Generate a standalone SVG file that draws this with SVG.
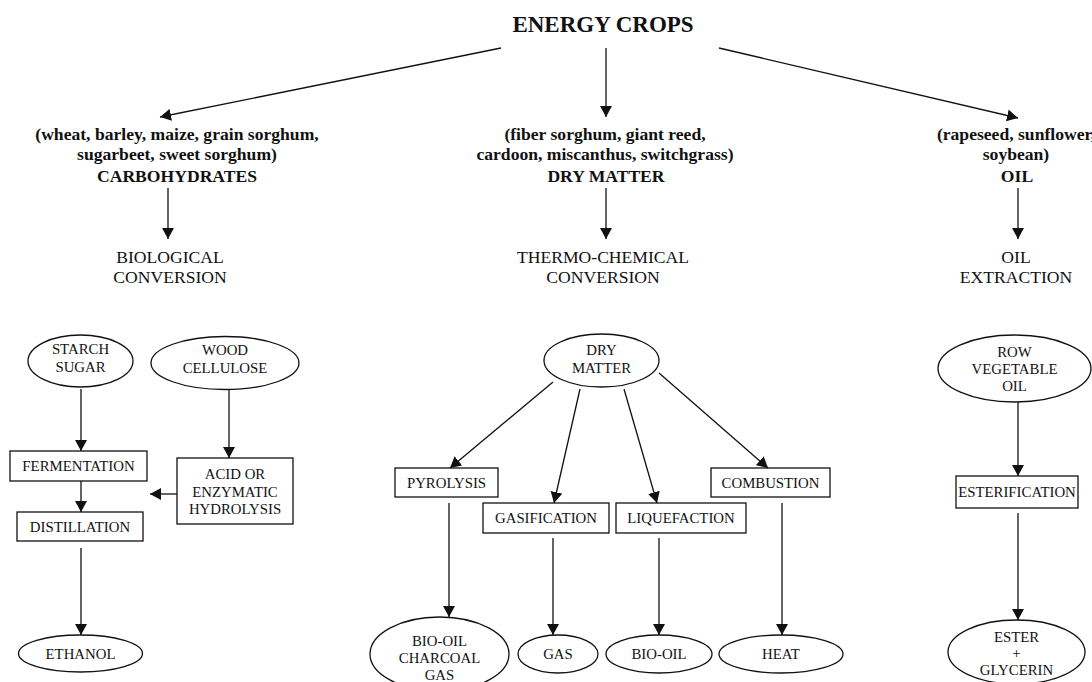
<svg xmlns="http://www.w3.org/2000/svg" width="1092" height="682" viewBox="0 0 1092 682">
<style>
text{font-family:"Liberation Serif","Times New Roman",serif;fill:#111;text-anchor:middle}
.t{font-size:23px;font-weight:bold}
.b{font-size:17.6px;font-weight:bold}
.c{font-size:17.6px}
.n{font-size:14.8px}
.s{fill:#fff;stroke:#111;stroke-width:1.3}
.e line{stroke:#111;stroke-width:1.3;marker-end:url(#ah)}
</style>
<defs>
<marker id="ah" viewBox="0 0 11 12" refX="11" refY="6" markerWidth="11" markerHeight="12" markerUnits="userSpaceOnUse" orient="auto"><path d="M0,0 L11,6 L0,12 z" fill="#111"/></marker>
</defs>
<rect width="1092" height="682" fill="#fff"/>
<g id="energy-crops"><text class="t" x="603" y="32">ENERGY CROPS</text></g>
<g id="carbohydrates"><text class="b" x="177" y="140">(wheat, barley, maize, grain sorghum,</text><text class="b" x="177" y="160">sugarbeet, sweet sorghum)</text><text class="b" x="177" y="182">CARBOHYDRATES</text></g>
<g id="dry-matter-crops"><text class="b" x="605" y="140">(fiber sorghum, giant reed,</text><text class="b" x="605" y="160">cardoon, miscanthus, switchgrass)</text><text class="b" x="606" y="182">DRY MATTER</text></g>
<g id="oil-crops"><text class="b" x="1016" y="140">(rapeseed, sunflower,</text><text class="b" x="1016" y="160">soybean)</text><text class="b" x="1017" y="182">OIL</text></g>
<g id="bio-conv"><text class="c" x="170" y="263">BIOLOGICAL</text><text class="c" x="170" y="283">CONVERSION</text></g>
<g id="thermo-conv"><text class="c" x="603" y="263">THERMO-CHEMICAL</text><text class="c" x="603" y="283">CONVERSION</text></g>
<g id="oil-extr"><text class="c" x="1016" y="263">OIL</text><text class="c" x="1016" y="283">EXTRACTION</text></g>
<g id="starch"><ellipse class="s" cx="80.5" cy="361" rx="52.5" ry="26"/><text class="n" x="80.5" y="354">STARCH</text><text class="n" x="80.5" y="372">SUGAR</text></g>
<g id="wood"><ellipse class="s" cx="225" cy="363" rx="74" ry="26.5"/><text class="n" x="225" y="355">WOOD</text><text class="n" x="225" y="373">CELLULOSE</text></g>
<g id="fermentation"><rect class="s" x="10" y="451" width="137" height="30"/><text class="n" x="78.5" y="471">FERMENTATION</text></g>
<g id="distillation"><rect class="s" x="17" y="512" width="126" height="29"/><text class="n" x="80" y="532">DISTILLATION</text></g>
<g id="hydrolysis"><rect class="s" x="177" y="458" width="116" height="66"/><text class="n" x="235" y="479">ACID OR</text><text class="n" x="235" y="497">ENZYMATIC</text><text class="n" x="235" y="514">HYDROLYSIS</text></g>
<g id="ethanol"><ellipse class="s" cx="80.5" cy="653.5" rx="62" ry="18.5"/><text class="n" x="80.5" y="659">ETHANOL</text></g>
<g id="drymatter"><ellipse class="s" cx="601.5" cy="360.5" rx="57.5" ry="26.5"/><text class="n" x="601.5" y="355">DRY</text><text class="n" x="601.5" y="373">MATTER</text></g>
<g id="pyrolysis"><rect class="s" x="395" y="468" width="103" height="29"/><text class="n" x="446.5" y="488">PYROLYSIS</text></g>
<g id="gasification"><rect class="s" x="483" y="503" width="126" height="30"/><text class="n" x="546" y="523">GASIFICATION</text></g>
<g id="liquefaction"><rect class="s" x="616" y="503" width="130" height="30"/><text class="n" x="681" y="523">LIQUEFACTION</text></g>
<g id="combustion"><rect class="s" x="711" y="468" width="119" height="29"/><text class="n" x="770.5" y="488">COMBUSTION</text></g>
<g id="biooil-charcoal-gas"><ellipse class="s" cx="439.5" cy="654" rx="69.5" ry="37"/><text class="n" x="439.5" y="646">BIO-OIL</text><text class="n" x="439.5" y="663">CHARCOAL</text><text class="n" x="439.5" y="680">GAS</text></g>
<g id="gas"><ellipse class="s" cx="558" cy="654" rx="40" ry="19"/><text class="n" x="558" y="659">GAS</text></g>
<g id="biooil"><ellipse class="s" cx="659" cy="654" rx="53" ry="19"/><text class="n" x="659" y="659">BIO-OIL</text></g>
<g id="heat"><ellipse class="s" cx="781" cy="654" rx="62" ry="19"/><text class="n" x="781" y="659">HEAT</text></g>
<g id="row-oil"><ellipse class="s" cx="1014.5" cy="368.5" rx="76.5" ry="33.5"/><text class="n" x="1014.5" y="357">ROW</text><text class="n" x="1014.5" y="374">VEGETABLE</text><text class="n" x="1014.5" y="391">OIL</text></g>
<g id="esterification"><rect class="s" x="956" y="476" width="122" height="32"/><text class="n" x="1017" y="497">ESTERIFICATION</text></g>
<g id="ester"><ellipse class="s" cx="1016.5" cy="652" rx="68.5" ry="32"/><text class="n" x="1016.5" y="642">ESTER</text><text class="n" x="1016.5" y="658">+</text><text class="n" x="1016.5" y="675">GLYCERIN</text></g>
<g id="connectors" class="e">
<line x1="501" y1="48" x2="160" y2="117"/>
<line x1="606" y1="48" x2="606" y2="117"/>
<line x1="719" y1="48" x2="1018" y2="118"/>
<line x1="168" y1="188" x2="168" y2="239"/>
<line x1="606" y1="188" x2="606" y2="239"/>
<line x1="1018" y1="188" x2="1018" y2="239"/>
<line x1="81" y1="389" x2="81" y2="451"/>
<line x1="81" y1="481" x2="81" y2="512"/>
<line x1="229" y1="390" x2="229" y2="458"/>
<line x1="177" y1="494" x2="150" y2="494"/>
<line x1="81" y1="548" x2="81" y2="635"/>
<line x1="553" y1="382" x2="450" y2="468"/>
<line x1="580" y1="389" x2="554" y2="503"/>
<line x1="624" y1="389" x2="657" y2="503"/>
<line x1="659" y1="373" x2="768" y2="468"/>
<line x1="449" y1="503" x2="449" y2="617"/>
<line x1="553" y1="538" x2="553" y2="635"/>
<line x1="659" y1="538" x2="659" y2="635"/>
<line x1="782" y1="503" x2="782" y2="635"/>
<line x1="1018" y1="402" x2="1018" y2="476"/>
<line x1="1018" y1="513" x2="1018" y2="620"/>
</g>
</svg>
